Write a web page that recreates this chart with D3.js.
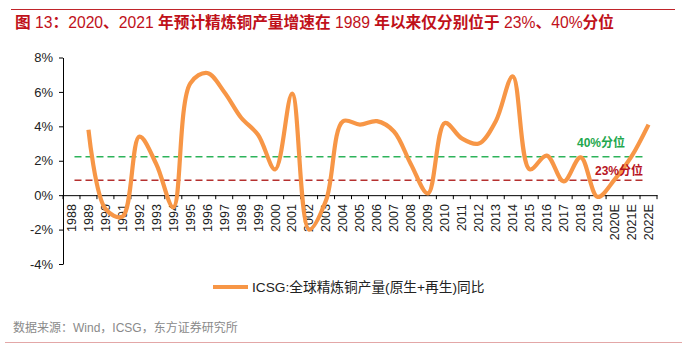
<!DOCTYPE html>
<html><head><meta charset="utf-8">
<script src="https://cdn.jsdelivr.net/npm/d3@7/dist/d3.min.js"></script>
<style>
html,body{margin:0;padding:0;background:#fff;}
svg{display:block;}
</style></head>
<body>
<svg id="chart" width="686" height="356"></svg>
<script>
const categories = ["1988","1989","1990","1991","1992","1993","1994","1995","1996","1997","1998","1999","2000","2001","2002","2003","2004","2005","2006","2007","2008","2009","2010","2011","2012","2013","2014","2015","2016","2017","2018","2019","2020E","2021E","2022E"];
const growth = [null,3.8,-0.8,-1.25,3.4,1.8,-0.7,6.5,7.1,6.0,4.5,3.5,1.5,5.9,-2.0,-0.3,4.3,4.1,4.3,3.7,1.8,0.1,4.2,3.3,3.0,4.3,6.9,1.5,2.3,0.8,2.2,-0.1,0.9,2.25,4.1];
const pct40 = 2.23;
const pct23 = 0.87;
const yTicks = [-4,-2,0,2,4,6,8];
const titleText = "图 13：2020、2021 年预计精炼铜产量增速在 1989 年以来仅分别位于 23%、40%分位";
const legendText = "ICSG:全球精炼铜产量(原生+再生)同比";
const sourceText = "数据来源：Wind，ICSG，东方证券研究所";
const label40 = "40%分位";
const label23 = "23%分位";

const svg = d3.select("#chart");
const FONT = "'Liberation Sans', Arial, 'Noto Sans CJK SC', sans-serif";
const orange = "#F79646", green = "#2DB35A", darkRed = "#B5302F";

// top rule & title
svg.append("line").attr("x1",11).attr("x2",675).attr("y1",9.5).attr("y2",9.5)
  .attr("stroke","#C0242A").attr("stroke-width",1);
const title = svg.append("text").attr("x",15).attr("y",28)
  .attr("font-family",FONT).attr("font-size",15.7).attr("fill","#C0111A");
titleText.split(/([\u3000-\u9fff\uff00-\uffef]+)/).filter(s=>s.length).forEach(s=>{
  const cjk = /[\u3000-\u9fff\uff00-\uffef]/.test(s);
  title.append("tspan").text(s).attr("font-weight", cjk ? "bold" : "normal");
});

// scales
const x = d3.scaleBand().domain(categories).range([63,657]);
const y = d3.scaleLinear().domain([-4,8]).range([264,57.5]);
const cx = d => x(d) + x.bandwidth()/2;

// y axis
const yAxis = d3.axisLeft(y).tickValues(yTicks).tickSize(4).tickSizeOuter(0).tickPadding(6)
  .tickFormat(d => d + "%");
const gy = svg.append("g").attr("transform","translate(63,0)").call(yAxis);
gy.select(".domain").attr("stroke","#000");
gy.selectAll(".tick line").attr("stroke","#000");
gy.selectAll("text").attr("font-family",FONT).attr("font-size",13).attr("fill","#222");

// x axis at 0
const xAxis = d3.axisBottom(x).tickSize(0).tickPadding(0);
const gx = svg.append("g").attr("transform",`translate(0,${y(0)})`).call(xAxis);
gx.select(".domain").attr("stroke","#000");
gx.selectAll(".tick text").attr("font-family",FONT).attr("font-size",12.5).attr("fill","#222")
  .attr("transform","rotate(-90)").attr("text-anchor","end").attr("dy","0.35em").attr("x",-9).attr("y",0);
// ticks between categories
const bounds = categories.map(c => x(c)).concat([x(categories[categories.length-1]) + x.bandwidth()]);
svg.append("g").selectAll("line").data(bounds).join("line")
  .attr("x1",d=>d).attr("x2",d=>d).attr("y1",y(0)).attr("y2",y(0)+4).attr("stroke","#000");

// percentile dashed lines
const first = cx(categories[0]), last = cx(categories[categories.length-1]);
svg.append("line").attr("x1",first+3).attr("x2",last-5).attr("y1",y(pct40)).attr("y2",y(pct40))
  .attr("stroke",green).attr("stroke-width",1.6).attr("stroke-dasharray","7,4");
svg.append("line").attr("x1",first+3).attr("x2",last-5).attr("y1",y(pct23)).attr("y2",y(pct23))
  .attr("stroke",darkRed).attr("stroke-width",1.6).attr("stroke-dasharray","7,4");

// series line
const pts = categories.map((c,i)=>({c, v:growth[i]})).filter(d=>d.v!==null);
const line = d3.line().x(d=>cx(d.c)).y(d=>y(d.v)).curve(d3.curveCatmullRom.alpha(0.5));
svg.append("path").datum(pts).attr("d",line).attr("fill","none")
  .attr("stroke",orange).attr("stroke-width",4.2).attr("stroke-linejoin","round").attr("stroke-linecap","butt");

// percentile labels
svg.append("text").attr("x",577).attr("y",146.5).text(label40)
  .attr("font-family",FONT).attr("font-size",12).attr("font-weight","bold").attr("fill","#1FA84E");
svg.append("text").attr("x",595).attr("y",174.5).text(label23)
  .attr("font-family",FONT).attr("font-size",12).attr("font-weight","bold").attr("fill","#B8141E");

// legend
svg.append("line").attr("x1",213).attr("x2",248).attr("y1",287).attr("y2",287)
  .attr("stroke",orange).attr("stroke-width",4.2);
svg.append("text").attr("x",252).attr("y",292).text(legendText)
  .attr("font-family",FONT).attr("font-size",13.7).attr("fill","#222");

// source & bottom rule
svg.append("text").attr("x",13).attr("y",331.5).text(sourceText)
  .attr("font-family",FONT).attr("font-size",12).attr("fill","#8a8a8a");
svg.append("line").attr("x1",5).attr("x2",682).attr("y1",342.5).attr("y2",342.5)
  .attr("stroke","#E3A7A7").attr("stroke-width",1.2);
</script>
</body></html>
